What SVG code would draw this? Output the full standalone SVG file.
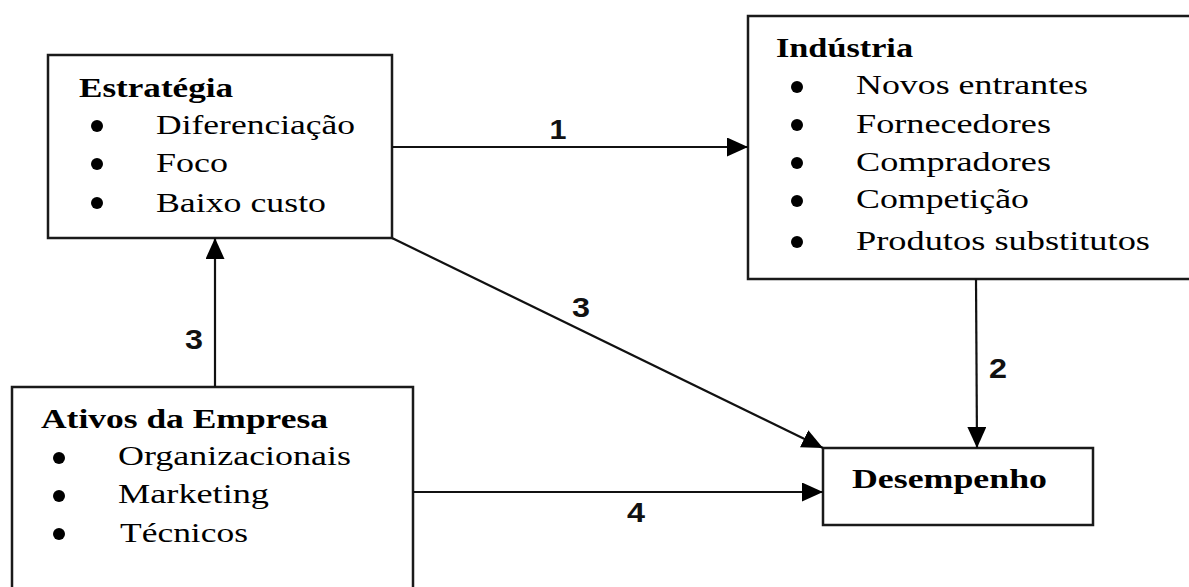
<svg xmlns="http://www.w3.org/2000/svg" width="1189" height="587" viewBox="0 0 1189 587">
  <style>
    .box { fill: #ffffff; stroke: #1a1a1a; stroke-width: 2.5; }
    .title { font-family: "Liberation Serif", "Times New Roman", serif; font-weight: bold; font-size: 28px; fill: #000; }
    .item { font-family: "Liberation Serif", "Times New Roman", serif; font-size: 28px; fill: #000; }
    .bullet { fill: #000; }
    .edge { stroke: #111; stroke-width: 2.2; fill: none; marker-end: url(#arrow); }
    .num { font-family: "Liberation Sans", Arial, sans-serif; font-weight: bold; font-size: 28px; fill: #111; text-anchor: middle; }
  </style>
  <defs>
    <marker id="arrow" markerUnits="userSpaceOnUse" markerWidth="21" markerHeight="19" refX="21" refY="9.5" orient="auto">
      <path d="M0,0 L21,9.5 L0,19 Z" fill="#000"/>
    </marker>
  </defs>
  <rect width="1189" height="587" fill="#ffffff"/>

  <!-- Estratégia -->
  <g id="estrategia">
    <rect class="box" x="48" y="55" width="344" height="183"/>
    <text class="title" x="79" y="97" textLength="154" lengthAdjust="spacingAndGlyphs">Estratégia</text>
    <circle class="bullet" cx="97" cy="126" r="6"/>
    <circle class="bullet" cx="97" cy="164" r="6"/>
    <circle class="bullet" cx="97" cy="203" r="6"/>
    <text class="item" x="156" y="134" textLength="199" lengthAdjust="spacingAndGlyphs">Diferenciação</text>
    <text class="item" x="156" y="172" textLength="72" lengthAdjust="spacingAndGlyphs">Foco</text>
    <text class="item" x="156" y="212" textLength="170" lengthAdjust="spacingAndGlyphs">Baixo custo</text>
  </g>

  <!-- Indústria -->
  <g id="industria">
    <rect class="box" x="748" y="16" width="450" height="263"/>
    <text class="title" x="776" y="57" textLength="137" lengthAdjust="spacingAndGlyphs">Indústria</text>
    <circle class="bullet" cx="797" cy="87" r="6"/>
    <circle class="bullet" cx="797" cy="125" r="6"/>
    <circle class="bullet" cx="797" cy="163" r="6"/>
    <circle class="bullet" cx="797" cy="201" r="6"/>
    <circle class="bullet" cx="797" cy="242" r="6"/>
    <text class="item" x="856" y="94" textLength="232" lengthAdjust="spacingAndGlyphs">Novos entrantes</text>
    <text class="item" x="856" y="133" textLength="195" lengthAdjust="spacingAndGlyphs">Fornecedores</text>
    <text class="item" x="856" y="171" textLength="195" lengthAdjust="spacingAndGlyphs">Compradores</text>
    <text class="item" x="856" y="208" textLength="173" lengthAdjust="spacingAndGlyphs">Competição</text>
    <text class="item" x="856" y="250" textLength="294" lengthAdjust="spacingAndGlyphs">Produtos substitutos</text>
  </g>

  <!-- Ativos da Empresa -->
  <g id="ativos">
    <rect class="box" x="12" y="387" width="401" height="215"/>
    <text class="title" x="41" y="428" textLength="287" lengthAdjust="spacingAndGlyphs">Ativos da Empresa</text>
    <circle class="bullet" cx="59" cy="458" r="6"/>
    <circle class="bullet" cx="59" cy="496" r="6"/>
    <circle class="bullet" cx="59" cy="534" r="6"/>
    <text class="item" x="118" y="465" textLength="233" lengthAdjust="spacingAndGlyphs">Organizacionais</text>
    <text class="item" x="118" y="503" textLength="151" lengthAdjust="spacingAndGlyphs">Marketing</text>
    <text class="item" x="120" y="542" textLength="128" lengthAdjust="spacingAndGlyphs">Técnicos</text>
  </g>

  <!-- Desempenho -->
  <g id="desempenho">
    <rect class="box" x="823" y="448" width="270" height="77"/>
    <text class="title" x="852" y="488" textLength="195" lengthAdjust="spacingAndGlyphs">Desempenho</text>
  </g>

  <!-- Connectors -->
  <g id="connectors">
    <line class="edge" x1="392" y1="147" x2="748" y2="147"/>
    <text class="num" x="558" y="139" textLength="17" lengthAdjust="spacingAndGlyphs">1</text>

    <line class="edge" x1="976" y1="279" x2="977" y2="448"/>
    <text class="num" x="998" y="378" textLength="18" lengthAdjust="spacingAndGlyphs">2</text>

    <line class="edge" x1="215" y1="387" x2="215" y2="238"/>
    <text class="num" x="194" y="349" textLength="18" lengthAdjust="spacingAndGlyphs">3</text>

    <line class="edge" x1="392" y1="238" x2="823" y2="448"/>
    <text class="num" x="581" y="317" textLength="18" lengthAdjust="spacingAndGlyphs">3</text>

    <line class="edge" x1="413" y1="492" x2="823" y2="492"/>
    <text class="num" x="636" y="522" textLength="18" lengthAdjust="spacingAndGlyphs">4</text>
  </g>
</svg>
